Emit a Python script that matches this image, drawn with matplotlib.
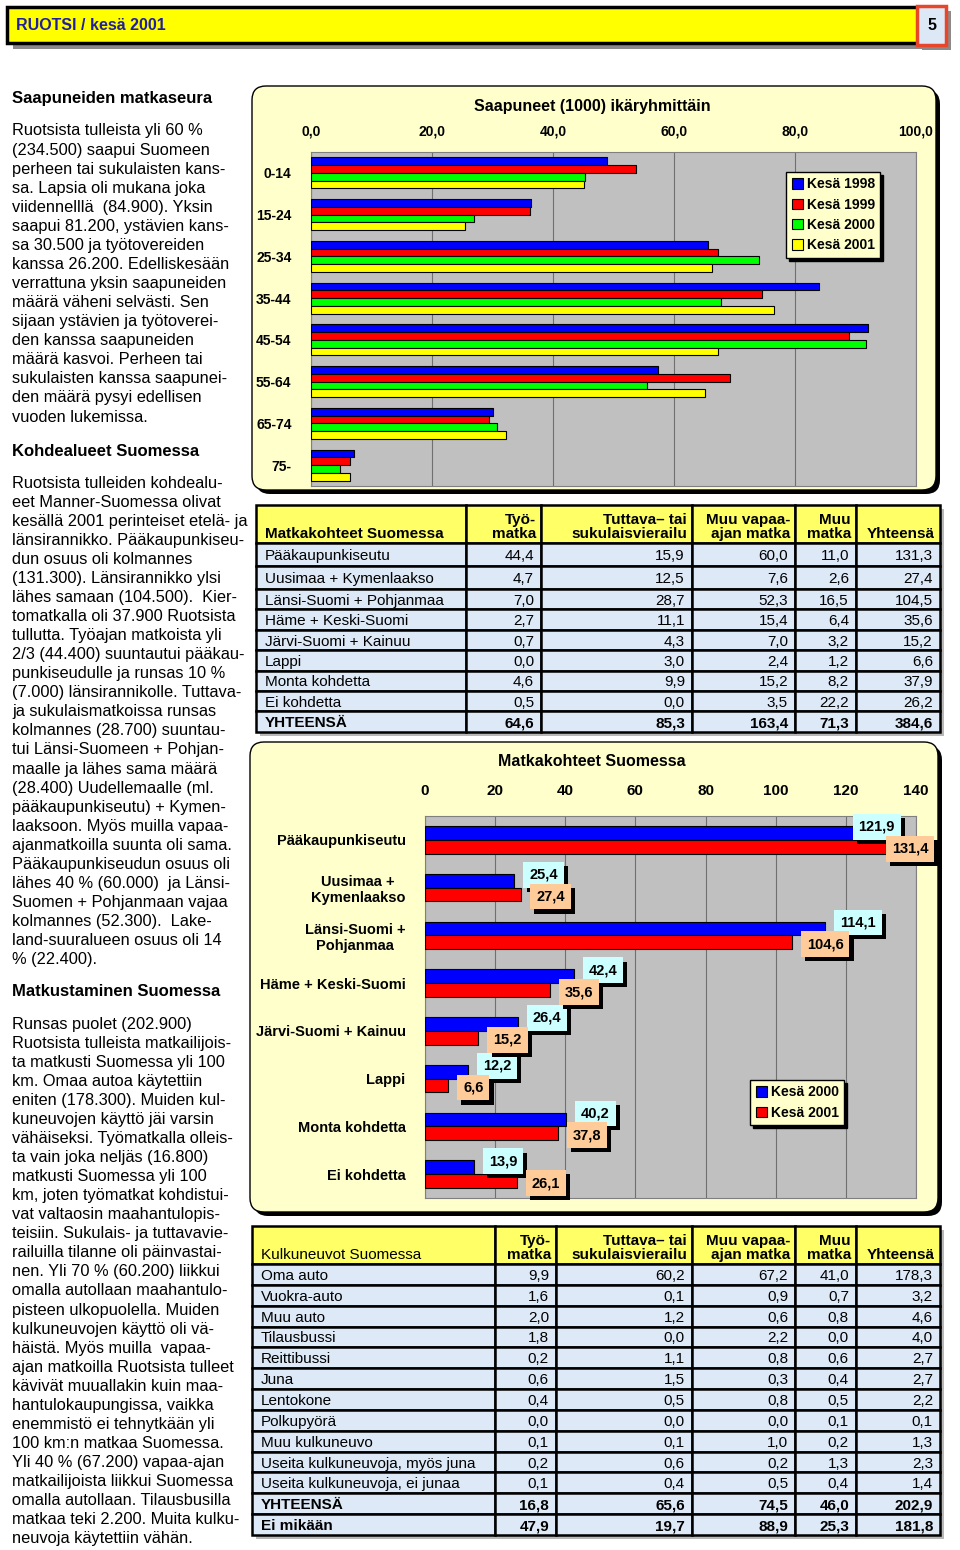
import matplotlib
matplotlib.use('Agg')
import matplotlib.pyplot as plt
from matplotlib.patches import Rectangle, FancyBboxPatch
from matplotlib import patheffects
import numpy as np

plt.rcParams['font.family'] = ['Liberation Sans', 'DejaVu Sans']

W, H = 960, 1550

# --- chart 1: arrivals by age group (1000)
age_groups = ['0-14', '15-24', '25-34', '35-44', '45-54', '55-64', '65-74', '75-']
kesa_1998 = [49.0, 36.4, 65.7, 83.9, 92.1, 57.4, 30.1, 7.1]
kesa_1999 = [53.8, 36.2, 67.2, 74.6, 88.9, 69.3, 29.5, 6.5]
kesa_2000 = [45.3, 26.9, 74.1, 67.8, 91.8, 55.5, 30.7, 4.8]
kesa_2001 = [45.1, 25.4, 66.3, 76.5, 67.2, 65.2, 32.2, 6.5]
age_series = ['Kesä 1998', 'Kesä 1999', 'Kesä 2000', 'Kesä 2001']
age_colors = ['#0000ff', '#ff0000', '#00ff00', '#ffff00']

# --- chart 2: destinations in Finland
regions = ['Pääkaupunkiseutu', 'Uusimaa +\nKymenlaakso', 'Länsi-Suomi +\nPohjanmaa',
           'Häme + Keski-Suomi', 'Järvi-Suomi + Kainuu', 'Lappi', 'Monta kohdetta', 'Ei kohdetta']
region_2000 = [121.9, 25.4, 114.1, 42.4, 26.4, 12.2, 40.2, 13.9]
region_2001 = [131.4, 27.4, 104.6, 35.6, 15.2, 6.6, 37.8, 26.1]

# --- table 1
trip_cols = ['Työ-\nmatka', 'Tuttava– tai\nsukulaisvierailu', 'Muu vapaa-\najan matka', 'Muu\nmatka', 'Yhteensä']
dest_rows = ['Pääkaupunkiseutu', 'Uusimaa + Kymenlaakso', 'Länsi-Suomi + Pohjanmaa', 'Häme + Keski-Suomi',
             'Järvi-Suomi + Kainuu', 'Lappi', 'Monta kohdetta', 'Ei kohdetta', 'YHTEENSÄ']
dest_tyo = [44.4, 4.7, 7.0, 2.7, 0.7, 0.0, 4.6, 0.5, 64.6]
dest_tuttava = [15.9, 12.5, 28.7, 11.1, 4.3, 3.0, 9.9, 0.0, 85.3]
dest_vapaa = [60.0, 7.6, 52.3, 15.4, 7.0, 2.4, 15.2, 3.5, 163.4]
dest_muu = [11.0, 2.6, 16.5, 6.4, 3.2, 1.2, 8.2, 22.2, 71.3]
dest_total = [131.3, 27.4, 104.5, 35.6, 15.2, 6.6, 37.9, 26.2, 384.6]

# --- table 2
veh_rows = ['Oma auto', 'Vuokra-auto', 'Muu auto', 'Tilausbussi', 'Reittibussi', 'Juna', 'Lentokone',
            'Polkupyörä', 'Muu kulkuneuvo', 'Useita kulkuneuvoja, myös juna', 'Useita kulkuneuvoja, ei junaa',
            'YHTEENSÄ', 'Ei mikään']
veh_tyo = [9.9, 1.6, 2.0, 1.8, 0.2, 0.6, 0.4, 0.0, 0.1, 0.2, 0.1, 16.8, 47.9]
veh_tuttava = [60.2, 0.1, 1.2, 0.0, 1.1, 1.5, 0.5, 0.0, 0.1, 0.6, 0.4, 65.6, 19.7]
veh_vapaa = [67.2, 0.9, 0.6, 2.2, 0.8, 0.3, 0.8, 0.0, 1.0, 0.2, 0.5, 74.5, 88.9]
veh_muu = [41.0, 0.7, 0.8, 0.0, 0.6, 0.4, 0.5, 0.1, 0.2, 1.3, 0.4, 46.0, 25.3]
veh_total = [178.3, 3.2, 4.6, 4.0, 2.7, 2.7, 2.2, 0.1, 1.3, 2.3, 1.4, 202.9, 181.8]

# --- body text
para1 = ['Ruotsista tulleista yli 60 %', '(234.500) saapui Suomeen', 'perheen tai sukulaisten kans-',
         'sa. Lapsia oli mukana joka', 'viidennelllä  (84.900). Yksin', 'saapui 81.200, ystävien kans-',
         'sa 30.500 ja työtovereiden', 'kanssa 26.200. Edelliskesään', 'verrattuna yksin saapuneiden',
         'määrä väheni selvästi. Sen', 'sijaan ystävien ja työtoverei-', 'den kanssa saapuneiden',
         'määrä kasvoi. Perheen tai', 'sukulaisten kanssa saapunei-', 'den määrä pysyi edellisen',
         'vuoden lukemissa.']
para2 = ['Ruotsista tulleiden kohdealu-', 'eet Manner-Suomessa olivat', 'kesällä 2001 perinteiset etelä- ja',
         'länsirannikko. Pääkaupunkiseu-', 'dun osuus oli kolmannes', '(131.300). Länsirannikko ylsi',
         'lähes samaan (104.500).  Kier-', 'tomatkalla oli 37.900 Ruotsista', 'tullutta. Työajan matkoista yli',
         '2/3 (44.400) suuntautui pääkau-', 'punkiseudulle ja runsas 10 %', '(7.000) länsirannikolle. Tuttava-',
         'ja sukulaismatkoissa runsas', 'kolmannes (28.700) suuntau-', 'tui Länsi-Suomeen + Pohjan-',
         'maalle ja lähes sama määrä', '(28.400) Uudellemaalle (ml.', 'pääkaupunkiseutu) + Kymen-',
         'laaksoon. Myös muilla vapaa-', 'ajanmatkoilla suunta oli sama.', 'Pääkaupunkiseudun osuus oli',
         'lähes 40 % (60.000)  ja Länsi-', 'Suomen + Pohjanmaan vajaa', 'kolmannes (52.300).  Lake-',
         'land-suuralueen osuus oli 14', '% (22.400).']
para3 = ['Runsas puolet (202.900)', 'Ruotsista tulleista matkailijois-', 'ta matkusti Suomessa yli 100',
         'km. Omaa autoa käytettiin', 'eniten (178.300). Muiden kul-', 'kuneuvojen käyttö jäi varsin',
         'vähäiseksi. Työmatkalla olleis-', 'ta vain joka neljäs (16.800)', 'matkusti Suomessa yli 100',
         'km, joten työmatkat kohdistui-', 'vat valtaosin maahantulopis-', 'teisiin. Sukulais- ja tuttavavie-',
         'railuilla tilanne oli päinvastai-', 'nen. Yli 70 % (60.200) liikkui', 'omalla autollaan maahantulo-',
         'pisteen ulkopuolella. Muiden', 'kulkuneuvojen käyttö oli vä-', 'häistä. Myös muilla  vapaa-',
         'ajan matkoilla Ruotsista tulleet', 'kävivät muuallakin kuin maa-', 'hantulokaupungissa, vaikka',
         'enemmistö ei tehnytkään yli', '100 km:n matkaa Suomessa.', 'Yli 40 % (67.200) vapaa-ajan',
         'matkailijoista liikkui Suomessa', 'omalla autollaan. Tilausbusilla', 'matkaa teki 2.200. Muita kulku-',
         'neuvoja käytettiin vähän.']


def fmt(v):
    return f'{v:.1f}'.replace('.', ',')


def rect_px(x0, y0, x1, y1):
    return [x0 / W, 1 - y1 / H, (x1 - x0) / W, (y1 - y0) / H]


fig = plt.figure(figsize=(W / 100, H / 100), dpi=100)
fig.patch.set_facecolor('white')

bg = fig.add_axes([0, 0, 1, 1], zorder=0)
bg.set_xlim(0, W)
bg.set_ylim(H, 0)
bg.axis('off')

# header bar
bg.add_patch(Rectangle((13, 13), 911, 36, fc='#8a8a8a', ec='none'))
bg.add_patch(Rectangle((7, 7), 911, 36, fc='#ffff00', ec='k', lw=2.5))
bg.add_patch(Rectangle((922, 11), 29, 39, fc='#8a8a8a', ec='none'))
bg.add_patch(Rectangle((917, 6), 29, 39, fc='#dde8f7', ec='#e8462a', lw=2.5))
bg.text(16, 25, 'RUOTSI / kesä 2001', fontsize=11.5, fontweight='bold', color='#1f1f9f', va='center')
bg.text(931.5, 25, '5', fontsize=11.5, fontweight='bold', color='k', va='center', ha='center')


# left column text
def para(lines, y0, step=19.07):
    for i, line in enumerate(lines):
        bg.text(12, y0 + i * step, line, fontsize=11.8, va='center', ha='left')


bg.text(12, 99, 'Saapuneiden matkaseura', fontsize=12, fontweight='bold', va='center')
para(para1, 131)
bg.text(12, 451, 'Kohdealueet Suomessa', fontsize=12, fontweight='bold', va='center')
para(para2, 483)
bg.text(12, 992, 'Matkustaminen Suomessa', fontsize=12, fontweight='bold', va='center')
para(para3, 1024)


# chart panels
def panel(x0, y0, x1, y1):
    style = 'round,pad=0,rounding_size=14'
    bg.add_patch(FancyBboxPatch((x0 + 4, y0 + 4), x1 - x0, y1 - y0, boxstyle=style, fc='k', ec='none'))
    bg.add_patch(FancyBboxPatch((x0, y0), x1 - x0, y1 - y0, boxstyle=style, fc='#ffffcc', ec='k', lw=1))


panel(252, 86, 936, 490)
panel(250, 742, 938, 1212)

bg.text(592, 106, 'Saapuneet (1000) ikäryhmittäin', fontsize=11.5, fontweight='bold', ha='center', va='center')
bg.text(592, 762, 'Matkakohteet Suomessa', fontsize=11.5, fontweight='bold', ha='center', va='center')

legend_kw = dict(prop={'size': 10, 'weight': 'bold'}, handlelength=0.8, handleheight=0.8, handletextpad=0.3,
                 labelspacing=0.45, borderpad=0.4, fancybox=False, edgecolor='k', facecolor='#ffffcc',
                 framealpha=1, shadow={'color': 'k', 'alpha': 1}, bbox_transform=fig.transFigure,
                 loc='upper left')

# ---- chart 1
ax1 = fig.add_axes(rect_px(311, 152, 916, 486), zorder=2)
ax1.set_facecolor('#c0c0c0')
y = np.arange(len(age_groups))
h = 0.185
for i, (vals, col, lab) in enumerate(zip([kesa_1998, kesa_1999, kesa_2000, kesa_2001], age_colors, age_series)):
    ax1.barh(y + (i - 1.5) * h, vals, height=h, color=col, edgecolor='k', lw=0.8, label=lab, zorder=3)
ax1.set_xlim(0, 100)
ax1.set_ylim(len(age_groups) - 0.5, -0.5)
ax1.xaxis.tick_top()
ax1.set_xticks(np.arange(0, 101, 20))
ax1.set_xticklabels([fmt(v) for v in np.arange(0, 101, 20)], fontsize=10, fontweight='bold')
ax1.set_yticks(y)
ax1.set_yticklabels(age_groups, fontsize=10, fontweight='bold')
ax1.tick_params(length=0)
ax1.tick_params(axis='x', pad=10)
ax1.tick_params(axis='y', pad=14)
ax1.grid(axis='x', color='#707070', lw=0.8)
ax1.set_axisbelow(True)
for s in ax1.spines.values():
    s.set_color('#808080')
ax1.legend(bbox_to_anchor=(779 / W, 1 - 165 / H), **legend_kw)

# ---- chart 2
ax2 = fig.add_axes(rect_px(425, 816, 916, 1198), zorder=2)
ax2.set_facecolor('#c0c0c0')
y2 = np.arange(len(regions))
h2 = 0.29
ax2.barh(y2 - h2 / 2, region_2000, height=h2, color='#0000ff', edgecolor='k', lw=0.8, label='Kesä 2000', zorder=3)
ax2.barh(y2 + h2 / 2, region_2001, height=h2, color='#ff0000', edgecolor='k', lw=0.8, label='Kesä 2001', zorder=3)
ax2.set_xlim(0, 140)
ax2.set_ylim(len(regions) - 0.5, -0.5)
ax2.xaxis.tick_top()
ax2.set_xticks(np.arange(0, 141, 20))
ax2.set_xticklabels([str(v) for v in np.arange(0, 141, 20)], fontsize=11, fontweight='bold')
ax2.set_yticks(y2)
ax2.set_yticklabels(regions, fontsize=10.5, fontweight='bold', multialignment='center')
ax2.tick_params(length=0)
ax2.tick_params(axis='x', pad=13)
ax2.tick_params(axis='y', pad=14)
ax2.grid(axis='x', color='#707070', lw=0.8)
ax2.set_axisbelow(True)
for s in ax2.spines.values():
    s.set_color('#808080')


def boxed_label(ax, x, yv, txt, fc, dy, z):
    dx = 15 if x < 120 else 6
    t = ax.annotate(txt, xy=(x, yv), xytext=(dx, dy), textcoords='offset pixels', ha='left', va='center',
                    fontsize=10.5, fontweight='bold', color='k', annotation_clip=False, zorder=z,
                    bbox=dict(boxstyle='square,pad=0.4', fc=fc, ec='none'))
    t.get_bbox_patch().set_path_effects([
        patheffects.SimplePatchShadow(offset=(3, -3), shadow_rgbFace='k', alpha=1),
        patheffects.Normal()])


for i in range(len(regions)):
    boxed_label(ax2, region_2000[i], y2[i] - h2 / 2, fmt(region_2000[i]), '#ccffff', 6, 5)
for i in range(len(regions)):
    boxed_label(ax2, region_2001[i], y2[i] + h2 / 2, fmt(region_2001[i]), '#ffcc99', -2, 6)

ax2.legend(bbox_to_anchor=(743 / W, 1 - 1073 / H), **legend_kw)


# ---- tables
def draw_table(xe, y_top, head_h, row_hs, first_head, first_bold, labels, cols, bold_rows):
    y_bot = y_top + head_h + sum(row_hs)
    bg.add_patch(Rectangle((xe[0] + 4, y_top + 4), xe[-1] - xe[0], y_bot - y_top, fc='#b8b8b8', ec='none'))
    for j in range(len(xe) - 1):
        bg.add_patch(Rectangle((xe[j], y_top), xe[j + 1] - xe[j], head_h, fc='#ffff66', ec='k', lw=1.8))
    hb = y_top + head_h - 2
    bg.text(xe[0] + 9, hb, first_head, fontsize=11, fontweight='bold' if first_bold else 'normal',
            ha='left', va='bottom')
    for j, lab in enumerate(trip_cols):
        bg.text(xe[j + 2] - 5, hb, lab, fontsize=11, fontweight='bold', ha='right', va='bottom',
                multialignment='right', linespacing=1.0)
    y0 = y_top + head_h
    for r, rh in enumerate(row_hs):
        yc = y0 + rh / 2 + 1.5
        for j in range(len(xe) - 1):
            bg.add_patch(Rectangle((xe[j], y0), xe[j + 1] - xe[j], rh, fc='#dde9f7', ec='k', lw=1.8))
        fw = 'bold' if r in bold_rows else 'normal'
        bg.text(xe[0] + 9, yc, labels[r], fontsize=11, fontweight=fw, ha='left', va='center')
        for j, col in enumerate(cols):
            bg.text(xe[j + 2] - 7, yc, fmt(col[r]), fontsize=11, fontweight=fw, ha='right', va='center')
        y0 += rh


draw_table([256, 466, 541, 692, 795, 856, 940], 505, 38, [23, 23] + [20.4] * 7,
           'Matkakohteet Suomessa', True,
           dest_rows, [dest_tyo, dest_tuttava, dest_vapaa, dest_muu, dest_total], [8])
draw_table([252, 495, 556, 692, 795, 856, 940], 1226, 38, [20.85] * 13,
           'Kulkuneuvot Suomessa', False,
           veh_rows, [veh_tyo, veh_tuttava, veh_vapaa, veh_muu, veh_total], [11, 12])

fig.savefig('out.png', dpi=100)
